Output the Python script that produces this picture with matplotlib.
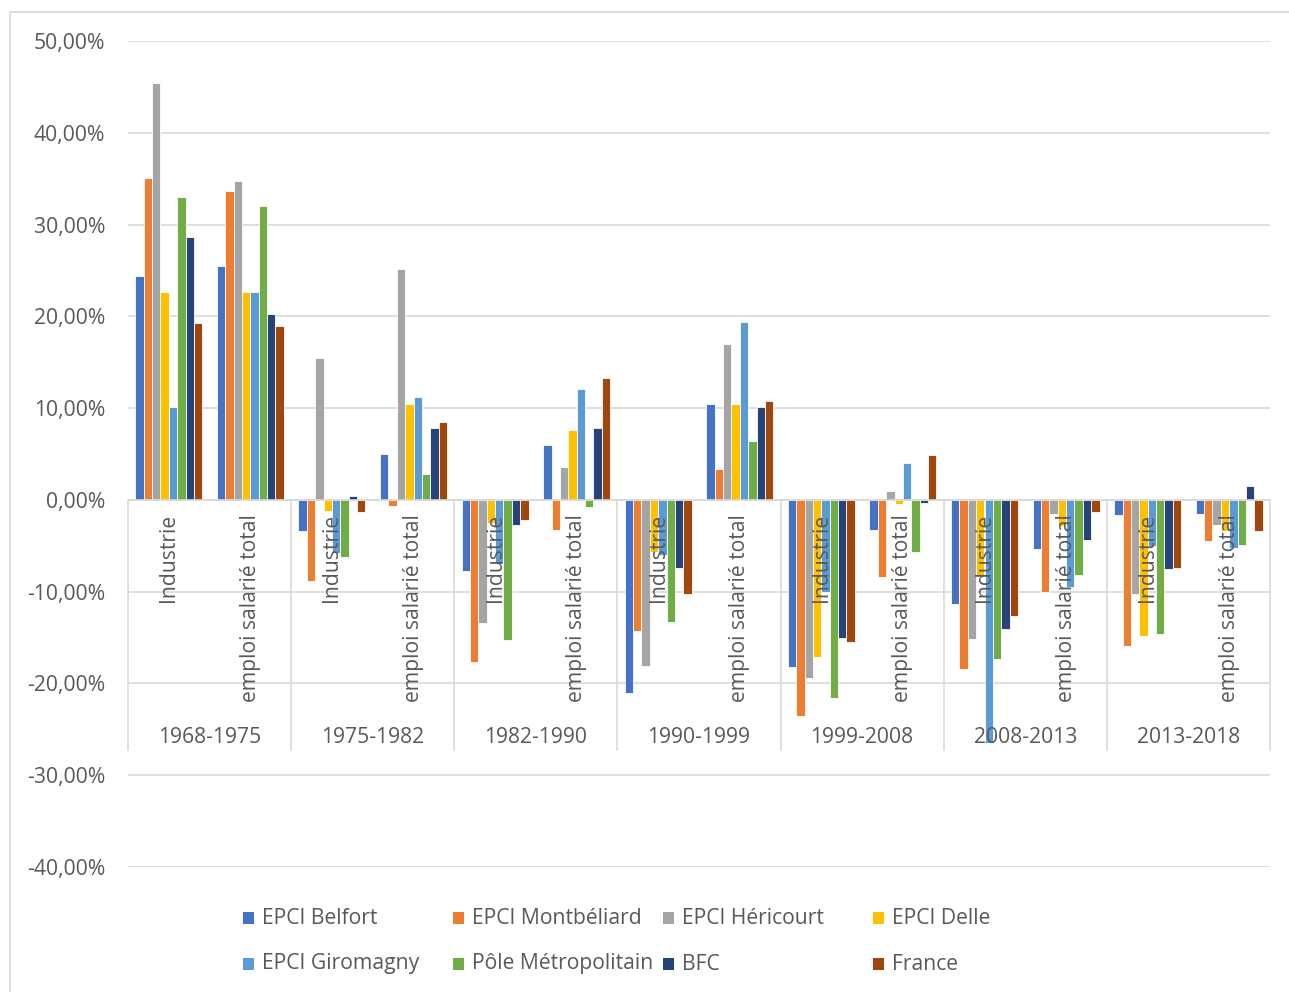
import numpy as np
import matplotlib
matplotlib.use('Agg')
from matplotlib import pyplot as plt
from matplotlib.patches import Rectangle

# Data (in %)
periods = ['1968-1975', '1975-1982', '1982-1990', '1990-1999', '1999-2008', '2008-2013', '2013-2018']
subcats = ['Industrie', 'emploi salarié total']
series = ['EPCI Belfort', 'EPCI Montbéliard', 'EPCI Héricourt', 'EPCI Delle',
          'EPCI Giromagny', 'Pôle Métropolitain', 'BFC', 'France']
colors = ['#4472C4', '#ED7D31', '#A5A5A5', '#FFC000', '#5B9BD5', '#70AD47', '#264478', '#9E480E']

# one list per series, 14 values: (Industrie, emploi total) for each period
belfort = [24.4, 25.5, -3.4, 5.0, -7.7, 6.0, -21.0, 10.4, -18.2, -3.3, -11.3, -5.4, -1.6, -1.5]
montbeliard = [35.1, 33.7, -8.8, -0.7, -17.7, -3.3, -14.3, 3.4, -23.6, -8.4, -18.4, -10.0, -15.9, -4.5]
hericourt = [45.4, 34.8, 15.5, 25.2, -13.4, 3.6, -18.1, 17.0, -19.4, 1.0, -15.2, -1.5, -10.3, -2.7]
delle = [22.7, 22.7, -1.2, 10.5, -2.5, 7.6, -5.7, 10.4, -17.1, -0.5, -8.3, -2.8, -14.8, -3.4]
giromagny = [10.1, 22.7, -5.8, 11.2, -7.0, 12.1, -6.0, 19.4, -10.0, 4.0, -26.5, -9.5, -5.0, -5.2]
pole = [33.0, 32.0, -6.2, 2.8, -15.3, -0.8, -13.3, 6.4, -21.6, -5.7, -17.3, -8.2, -14.6, -4.9]
bfc = [28.6, 20.3, 0.4, 7.8, -2.7, 7.8, -7.4, 10.1, -15.1, -0.3, -14.1, -4.4, -7.5, 1.5]
france = [19.3, 19.0, -1.3, 8.5, -2.2, 13.3, -10.3, 10.8, -15.5, 4.9, -12.6, -1.3, -7.4, -3.4]
values = [belfort, montbeliard, hericourt, delle, giromagny, pole, bfc, france]

txt = '#595959'
grid_c = '#D9D9D9'
plt.rcParams['font.family'] = ['Open Sans', 'DejaVu Sans']
fs = 15.2

fig = plt.figure(figsize=(12.89, 9.92), dpi=100)
ax = fig.add_axes([128/1289, 1 - 867/992, (1270-128)/1289, (867-41)/992])

ncat = len(periods) * len(subcats)
x = np.arange(ncat)
w = 0.82 / len(series)
for i, (name, vals) in enumerate(zip(series, values)):
    ax.bar(x + (i - 3.5) * w, vals, width=w, color=colors[i], edgecolor='white',
           linewidth=0.6, zorder=2, label=name)

ax.set_xlim(-0.5, ncat - 0.5)
ax.set_ylim(-40, 50)
yt = np.arange(-40, 51, 10)
ax.set_yticks(yt)
ax.set_yticklabels([('%.2f' % v).replace('.', ',') + '%' for v in yt], color=txt, fontsize=fs)
ax.tick_params(axis='y', length=0, pad=16.5)
ax.set_xticks([])
ax.grid(axis='y', color=grid_c, linewidth=1.2, zorder=0)
for s in ax.spines.values():
    s.set_visible(False)

# category axis line and separators
ax.axhline(0, color=grid_c, linewidth=1.2, zorder=3)
for b in np.arange(-0.5, ncat, 2):
    ax.plot([b, b], [0, -27.2], color=grid_c, linewidth=1.2, zorder=3, clip_on=False)

for k in range(ncat):
    ax.text(x[k], -1.5, subcats[k % 2], rotation=90, ha='center', va='top',
            color=txt, fontsize=fs, zorder=5)
for p, name in enumerate(periods):
    ax.text(2 * p + 0.5, -25.9, name, ha='center', va='center', color=txt, fontsize=fs, zorder=5)

# legend, Excel style (row by row, equal column widths)
for i, name in enumerate(series):
    row, col = divmod(i, 4)
    px = 243 + col * 210
    py = 918 + row * 46
    fig.patches.append(Rectangle((px / 1289, 1 - (py + 6) / 992), 11 / 1289, 12 / 992,
                                 transform=fig.transFigure, facecolor=colors[i], edgecolor='none'))
    fig.text((px + 19) / 1289, 1 - py / 992, name, ha='left', va='center', color=txt, fontsize=fs)

# chart area border
fig.patches.append(Rectangle((10 / 1289, -0.05), 1.1, 1 - 12 / 992 + 0.05, transform=fig.transFigure,
                             facecolor='none', edgecolor=grid_c, linewidth=1.2))

fig.savefig('out.png', dpi=100)
